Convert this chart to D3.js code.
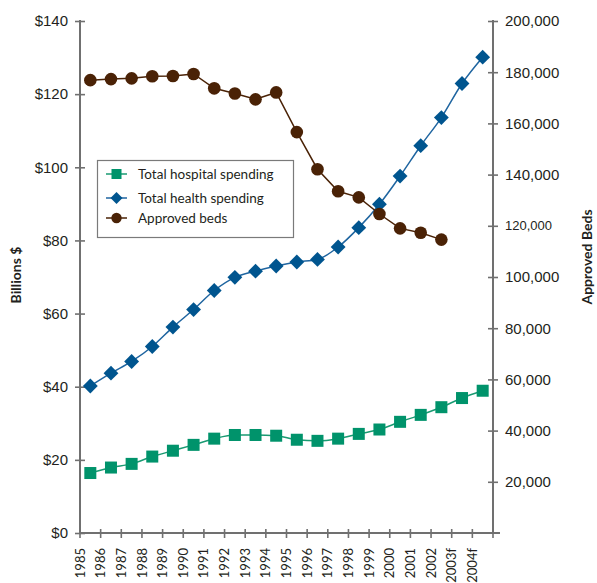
<!DOCTYPE html>
<html>
<head>
<meta charset="utf-8">
<script src="https://cdn.jsdelivr.net/npm/d3@7"></script>
<style>
  html, body { margin: 0; padding: 0; background: #fff; }
  svg { display: block; font-family: Lato, "Open Sans", sans-serif; }
</style>
</head>
<body>
<svg id="chart" width="597" height="583"></svg>
<script>
const years = ["1985","1986","1987","1988","1989","1990","1991","1992","1993","1994","1995","1996","1997","1998","1999","2000","2001","2002","2003f","2004f"];
const hospitalSpending = [16.4,17.9,18.9,20.9,22.5,24.1,25.8,26.8,26.8,26.6,25.5,25.2,25.8,27.1,28.3,30.4,32.3,34.4,36.9,38.9];
const healthSpending = [40.2,43.7,46.9,51.0,56.3,61.1,66.3,69.9,71.6,73.0,74.1,74.8,78.2,83.5,89.9,97.6,105.9,113.6,122.9,130.1];
const approvedBeds = [176900,177300,177600,178400,178500,179300,173700,171700,169400,172100,156600,142100,133500,131100,124600,119000,117300,114600];
const leftTicks = [0,20,40,60,80,100,120,140];
const rightTicks = [20000,40000,60000,80000,100000,120000,140000,160000,180000,200000];

const colors = { hosp: "#00936b", hospLine: "#1a9a72", health: "#00558f", healthLine: "#1f65a0", beds: "#4a2206", bedsLine: "#4a2206", axis: "#707070", text: "#231f20" };

const svg = d3.select("#chart");
const L = 80, R = 493, T = 21, B = 533;

const x = d3.scaleBand().domain(years).range([L, R]).padding(0);
const yL = d3.scaleLinear().domain([0, 140]).range([B, T]);
const yR = d3.scaleLinear().domain([0, 200000]).range([B, T]);
const cx = d => x(d) + x.bandwidth() / 2;

// Axes
const gAx = svg.append("g");
const leftAxis = gAx.append("g").attr("transform", `translate(${L},0)`)
  .call(d3.axisLeft(yL).tickValues(leftTicks).tickFormat(d => "$" + d).tickSize(0).tickPadding(12));
leftAxis.selectAll(".tick").append("line").attr("x1", -5).attr("x2", 5);
const rightAxis = gAx.append("g").attr("transform", `translate(${R},0)`)
  .call(d3.axisRight(yR).tickValues(rightTicks).tickFormat(d3.format(",")).tickSize(0).tickPadding(12));
rightAxis.selectAll(".tick").append("line").attr("x1", -5).attr("x2", 5);
const boundaries = d3.range(years.length + 1).map(i => L + i * x.bandwidth());
const bottom = gAx.append("g");
bottom.append("line").attr("x1", L - 1).attr("x2", R + 7).attr("y1", B).attr("y2", B);
bottom.selectAll("line.tk").data(boundaries).join("line").attr("class", "tk")
  .attr("x1", d => d).attr("x2", d => d).attr("y1", B - 4).attr("y2", B + 5);
bottom.selectAll("text").data(years).join("text")
  .attr("transform", d => `translate(${x(d)},${548}) rotate(-90)`)
  .attr("dy", "0.35em").attr("text-anchor", "end")
  .attr("font-size", 13).attr("fill", colors.text).text(d => d);

gAx.selectAll(".domain").attr("stroke", colors.axis).attr("stroke-width", 2);
gAx.selectAll("line").attr("stroke", colors.axis).attr("stroke-width", 1.6);
bottom.select("line").attr("stroke-width", 2);
leftAxis.selectAll(".tick text").attr("font-size", 15).attr("fill", colors.text);
rightAxis.selectAll(".tick text").attr("font-size", d => d === 120000 ? 13 : 15).attr("fill", colors.text);
leftAxis.select(".domain").remove();
rightAxis.select(".domain").remove();
gAx.append("line").attr("x1", L).attr("x2", L).attr("y1", T - 1).attr("y2", B + 1).attr("stroke", colors.axis).attr("stroke-width", 2);
gAx.append("line").attr("x1", R).attr("x2", R).attr("y1", T - 1).attr("y2", B + 1).attr("stroke", colors.axis).attr("stroke-width", 2);

// Axis titles
svg.append("text").attr("transform", `translate(16,275) rotate(-90)`).attr("text-anchor", "middle")
  .attr("dy", "0.35em").attr("font-size", 14).attr("font-weight", "bold").attr("fill", colors.text).text("Billions $");
svg.append("text").attr("transform", `translate(587,257) rotate(-90)`).attr("text-anchor", "middle")
  .attr("dy", "0.35em").attr("font-size", 14).attr("font-weight", "bold").attr("fill", colors.text).text("Approved Beds");

// Series
const line = (yScale) => d3.line().x((d, i) => cx(years[i])).y(d => yScale(d)).curve(d3.curveMonotoneX);

svg.append("path").datum(hospitalSpending).attr("d", line(yL)).attr("fill", "none").attr("stroke", colors.hospLine).attr("stroke-width", 1.5);
svg.selectAll("rect.hosp").data(hospitalSpending).join("rect").attr("class", "hosp")
  .attr("x", (d, i) => cx(years[i]) - 6).attr("y", d => yL(d) - 6).attr("width", 12).attr("height", 12).attr("fill", colors.hosp);

svg.append("path").datum(healthSpending).attr("d", line(yL)).attr("fill", "none").attr("stroke", colors.healthLine).attr("stroke-width", 1.5);
svg.selectAll("path.health").data(healthSpending).join("path").attr("class", "health")
  .attr("d", d3.symbol(d3.symbolSquare, 110)())
  .attr("transform", (d, i) => `translate(${cx(years[i])},${yL(d)}) rotate(45)`).attr("fill", colors.health);

svg.append("path").datum(approvedBeds).attr("d", d3.line().x((d, i) => cx(years[i])).y(d => yR(d))).attr("fill", "none").attr("stroke", colors.bedsLine).attr("stroke-width", 1.5);
svg.selectAll("circle.beds").data(approvedBeds).join("circle").attr("class", "beds")
  .attr("cx", (d, i) => cx(years[i])).attr("cy", d => yR(d)).attr("r", 6.3).attr("fill", colors.beds);

// Legend
const lg = svg.append("g");
lg.append("rect").attr("x", 97.5).attr("y", 160.5).attr("width", 196).attr("height", 77)
  .attr("fill", "#fff").attr("stroke", "#7a7a7a").attr("stroke-width", 1.2);
const items = [
  { label: "Total hospital spending", color: colors.hosp, lc: colors.hospLine, shape: "square", y: 174 },
  { label: "Total health spending", color: colors.health, lc: colors.healthLine, shape: "diamond", y: 198 },
  { label: "Approved beds", color: colors.beds, lc: colors.bedsLine, shape: "circle", y: 218 }
];
items.forEach(it => {
  lg.append("line").attr("x1", 106).attr("x2", 127).attr("y1", it.y).attr("y2", it.y).attr("stroke", it.lc).attr("stroke-width", 1.5);
  if (it.shape === "square") lg.append("rect").attr("x", 111.5).attr("y", it.y - 5).attr("width", 10).attr("height", 10).attr("fill", it.color);
  if (it.shape === "diamond") lg.append("path").attr("d", d3.symbol(d3.symbolSquare, 72)()).attr("transform", `translate(116.5,${it.y}) rotate(45)`).attr("fill", it.color);
  if (it.shape === "circle") lg.append("circle").attr("cx", 116.5).attr("cy", it.y).attr("r", 5.2).attr("fill", it.color);
  lg.append("text").attr("x", 138).attr("y", it.y).attr("dy", "0.35em").attr("font-size", 13.5).attr("fill", colors.text).text(it.label);
});
</script>
</body>
</html>
